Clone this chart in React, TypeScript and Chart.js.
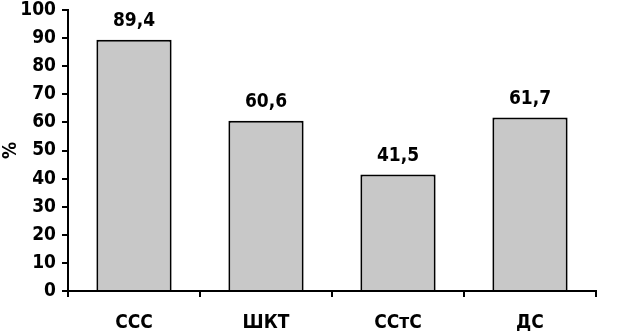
import React, { useEffect, useRef } from "react";
import { Chart, registerables } from "chart.js";

Chart.register(...registerables);

const categories = ["ССС", "ШКТ", "ССтС", "ДС"];
const values = [89.4, 60.6, 41.5, 61.7];
const yTicks = [0, 10, 20, 30, 40, 50, 60, 70, 80, 90, 100];

const FONT = "'Liberation Sans Narrow', 'DejaVu Sans Condensed', Arial, sans-serif";

const valueLabels = {
  id: "valueLabels",
  afterDatasetsDraw(chart: any) {
    const ctx = chart.ctx;
    const meta = chart.getDatasetMeta(0);
    ctx.save();
    ctx.fillStyle = "#000";
    ctx.font = `bold 19px ${FONT}`;
    ctx.textAlign = "center";
    ctx.textBaseline = "bottom";
    meta.data.forEach((bar: any, i: number) => {
      const txt = values[i].toFixed(1).replace(".", ",");
      ctx.fillText(txt, bar.x, bar.y - 9);
    });
    ctx.restore();
  },
};

export default function App() {
  const ref = useRef<HTMLCanvasElement>(null);
  useEffect(() => {
    if (!ref.current) return;
    const chart = new Chart(ref.current, {
      type: "bar",
      data: {
        labels: categories,
        datasets: [
          {
            data: values,
            backgroundColor: "#c8c8c8",
            borderColor: "#000",
            borderWidth: 2,
            categoryPercentage: 1,
            barPercentage: 0.57,
          },
        ],
      },
      options: {
        animation: false,
        responsive: false,
        maintainAspectRatio: false,
        layout: { padding: { top: 10, right: 45, left: 0, bottom: 0 } },
        plugins: { legend: { display: false }, tooltip: { enabled: false } },
        scales: {
          x: {
            grid: {
              offset: true,
              drawOnChartArea: false,
              drawTicks: true,
              tickLength: 6,
              color: "#000",
              lineWidth: 2,
            },
            border: { color: "#000", width: 2 },
            ticks: {
              color: "#000",
              font: { family: FONT, size: 19, weight: "bold" },
              padding: 15,
            },
            afterFit(scale: any) {
              scale.height = 42;
              scale.paddingLeft = 0;
              scale.paddingRight = 0;
            },
          },
          y: {
            min: 0,
            max: 100,
            afterBuildTicks(scale: any) {
              scale.ticks = yTicks.map((v) => ({ value: v }));
            },
            grid: {
              drawOnChartArea: false,
              drawTicks: true,
              tickLength: 6,
              color: "#000",
              lineWidth: 2,
            },
            border: { color: "#000", width: 2 },
            ticks: {
              color: "#000",
              font: { family: FONT, size: 19, weight: "bold", lineHeight: 1 },
              padding: 6,
            },
            title: {
              display: true,
              text: "%",
              color: "#000",
              font: { family: FONT, size: 19, weight: "bold" },
              padding: { top: 0, bottom: 2 },
            },
            afterFit(scale: any) {
              scale.width = 68;
              scale.paddingTop = 0;
              scale.paddingBottom = 0;
            },
          },
        },
      },
      plugins: [valueLabels],
    });
    return () => chart.destroy();
  }, []);
  return (
    <div style={{ position: "fixed", left: 0, top: 0, width: 641, height: 333, background: "#fff" }}>
      <canvas ref={ref} width={641} height={333} style={{ width: 641, height: 333 }} />
    </div>
  );
}
